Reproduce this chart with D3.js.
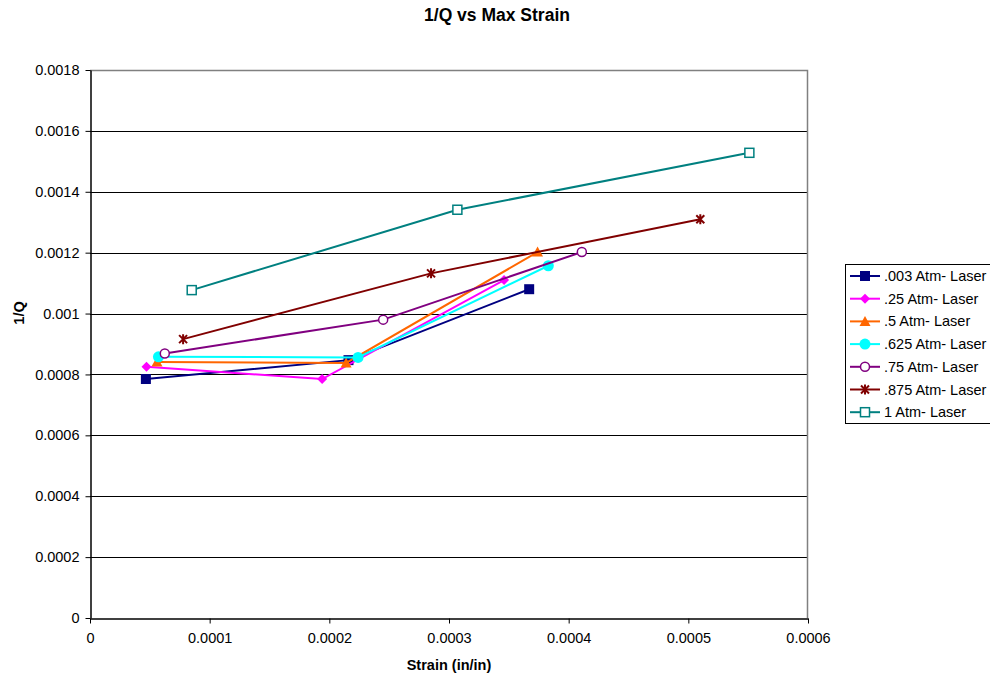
<!DOCTYPE html>
<html>
<head>
<meta charset="utf-8">
<script src="https://cdn.jsdelivr.net/npm/d3@7"></script>
<style>
  html, body { margin: 0; padding: 0; background: #fff; }
  svg { display: block; font-family: "Liberation Sans", Arial, sans-serif; }
</style>
</head>
<body>
<svg id="chart" width="990" height="677"></svg>
<script>
// Series names, colours and marker shapes
const seriesNames = [".003 Atm- Laser", ".25 Atm- Laser", ".5 Atm- Laser", ".625 Atm- Laser",
                     ".75 Atm- Laser", ".875 Atm- Laser", "1 Atm- Laser"];
const seriesColors = ["#000080", "#FF00FF", "#FF6600", "#00FFFF", "#800080", "#800000", "#008080"];
const seriesMarkers = ["square", "diamond", "triangle", "circle", "openCircle", "star", "openSquare"];

// Max strain (in/in) for each series
const strain003 = [0.0000467, 0.000216, 0.000367];
const strain025 = [0.0000472, 0.000194, 0.000346];
const strain05  = [0.0000560, 0.000214, 0.000374];
const strain0625 = [0.0000572, 0.000224, 0.000383];
const strain075 = [0.0000625, 0.000245, 0.000411];
const strain0875 = [0.0000778, 0.000285, 0.000510];
const strain1   = [0.0000850, 0.000307, 0.000551];

// 1/Q for each series
const invQ003 = [0.000785, 0.000847, 0.001080];
const invQ025 = [0.000825, 0.000785, 0.001110];
const invQ05  = [0.000841, 0.000838, 0.001202];
const invQ0625 = [0.000858, 0.000856, 0.001157];
const invQ075 = [0.000869, 0.000980, 0.001202];
const invQ0875 = [0.000916, 0.001132, 0.001310];
const invQ1   = [0.001077, 0.001341, 0.001528];

const xTicks = [0, 0.0001, 0.0002, 0.0003, 0.0004, 0.0005, 0.0006];
const yTicks = [0, 0.0002, 0.0004, 0.0006, 0.0008, 0.001, 0.0012, 0.0014, 0.0016, 0.0018];

const xs = [strain003, strain025, strain05, strain0625, strain075, strain0875, strain1];
const ys = [invQ003, invQ025, invQ05, invQ0625, invQ075, invQ0875, invQ1];
const series = seriesNames.map((name, i) => ({
  name, color: seriesColors[i], marker: seriesMarkers[i],
  points: xs[i].map((x, j) => ({ x, y: ys[i][j] }))
}));

const svg = d3.select("#chart");
const plot = { left: 90, top: 70, right: 808, bottom: 618 };

const x = d3.scaleLinear().domain([0, 0.0006]).range([plot.left, plot.right]);
const y = d3.scaleLinear().domain([0, 0.0018]).range([plot.bottom, plot.top]);

const fmt = d => d === 0 ? "0" : String(+d.toPrecision(6)).replace(/^0\./, "0.");

// Horizontal gridlines
svg.append("g").selectAll("line").data(yTicks.slice(1, -1)).join("line")
  .attr("x1", plot.left).attr("x2", plot.right)
  .attr("y1", d => Math.round(y(d)) + 0.5).attr("y2", d => Math.round(y(d)) + 0.5)
  .attr("stroke", "#000").attr("stroke-width", 1);

// Plot area frame (top and right in grey)
svg.append("path")
  .attr("d", `M${plot.left},${plot.top + 0.5}H${plot.right - 0.5}V${plot.bottom}`)
  .attr("fill", "none").attr("stroke", "#808080").attr("stroke-width", 1.5);

// Axes
const xAxis = d3.axisBottom(x).tickValues(xTicks).tickFormat(fmt).tickSize(5).tickSizeOuter(0);
const yAxis = d3.axisLeft(y).tickValues(yTicks).tickFormat(fmt).tickSize(5).tickSizeOuter(0);

const gx = svg.append("g").attr("transform", `translate(0,${plot.bottom + 0.5})`).call(xAxis);
gx.selectAll("text").attr("font-size", 14.5).attr("fill", "#000").attr("dy", "0.71em").attr("y", 14);
const gy = svg.append("g").attr("transform", `translate(${plot.left + 0.5},0)`).call(yAxis);
gy.selectAll("text").attr("font-size", 14.5).attr("fill", "#000").attr("x", -11);
svg.selectAll(".domain").attr("stroke", "#000").attr("stroke-width", 1.5);
svg.selectAll(".tick line").attr("stroke", "#000");
svg.selectAll(".tick text").attr("font-family", "Liberation Sans, Arial, sans-serif");

// Marker drawing
function drawMarker(g, type, color) {
  switch (type) {
    case "square":
      g.append("rect").attr("x", -5).attr("y", -5).attr("width", 10).attr("height", 10).attr("fill", color);
      break;
    case "openSquare":
      g.append("rect").attr("x", -4.5).attr("y", -4.5).attr("width", 9).attr("height", 9)
        .attr("fill", "#fff").attr("stroke", color).attr("stroke-width", 1.5);
      break;
    case "diamond":
      g.append("path").attr("d", "M0,-5L5,0L0,5L-5,0Z").attr("fill", color);
      break;
    case "triangle":
      g.append("path").attr("d", "M0,-5.5L5.5,4.5L-5.5,4.5Z").attr("fill", color);
      break;
    case "circle":
      g.append("circle").attr("r", 5.5).attr("fill", color);
      break;
    case "openCircle":
      g.append("circle").attr("r", 4.5).attr("fill", "#fff").attr("stroke", color).attr("stroke-width", 1.5);
      break;
    case "star":
      g.append("path").attr("d", "M-4,-4L4,4M-4,4L4,-4M0,-5V5")
        .attr("stroke", color).attr("stroke-width", 2).attr("fill", "none");
      break;
  }
}

// Series lines and markers
const line = d3.line().x(d => x(d.x)).y(d => y(d.y));
series.forEach(s => {
  const g = svg.append("g");
  g.append("path").datum(s.points).attr("d", line)
    .attr("fill", "none").attr("stroke", s.color).attr("stroke-width", 2);
  g.selectAll("g").data(s.points).join("g")
    .attr("transform", d => `translate(${x(d.x)},${y(d.y)})`)
    .each(function () { drawMarker(d3.select(this), s.marker, s.color); });
});

// Title and axis labels
svg.append("text").attr("x", 497).attr("y", 21).attr("text-anchor", "middle")
  .attr("font-size", 17.5).attr("font-weight", "bold").text("1/Q vs Max Strain");
svg.append("text").attr("x", 449).attr("y", 670).attr("text-anchor", "middle")
  .attr("font-size", 14.5).attr("font-weight", "bold").text("Strain (in/in)");
svg.append("text").attr("transform", "translate(24,313) rotate(-90)").attr("text-anchor", "middle")
  .attr("font-size", 14.5).attr("font-weight", "bold").text("1/Q");

// Legend
const legend = svg.append("g").attr("transform", "translate(845,264)");
legend.append("rect").attr("x", 0.5).attr("y", 0.5).attr("width", 160).attr("height", 159)
  .attr("fill", "#fff").attr("stroke", "#000").attr("stroke-width", 1);
series.forEach((s, i) => {
  const row = legend.append("g").attr("transform", `translate(0,${12 + i * 22.7})`);
  row.append("line").attr("x1", 5).attr("x2", 35).attr("stroke", s.color).attr("stroke-width", 2);
  drawMarker(row.append("g").attr("transform", "translate(20,0)"), s.marker, s.color);
  row.append("text").attr("x", 39).attr("dy", "0.35em").attr("font-size", 14.5).text(s.name);
});
</script>
</body>
</html>
